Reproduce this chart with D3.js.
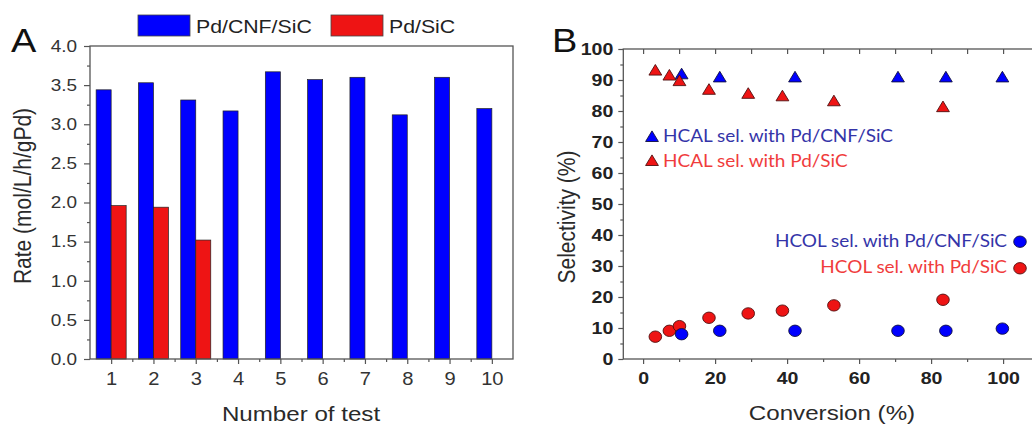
<!DOCTYPE html>
<html><head><meta charset="utf-8">
<script src="https://cdn.jsdelivr.net/npm/d3@7"></script>
<style>
html,body{margin:0;padding:0;background:#fff;}
svg{display:block;}
</style></head>
<body>
<svg id="chart" width="1032" height="426"></svg>
<script>
// ---------- DATA ----------
const tests = [1, 2, 3, 4, 5, 6, 7, 8, 9, 10];
const rateCNF = [3.44, 3.53, 3.31, 3.17, 3.67, 3.57, 3.60, 3.12, 3.60, 3.20];
const rateSiC = [1.96, 1.94, 1.52, 0, 0, null, null, null, null, null];
const seriesNamesA = ["Pd/CNF/SiC", "Pd/SiC"];
const yTicksA = [0, 0.5, 1, 1.5, 2, 2.5, 3, 3.5, 4];

const convCNF = [10.7, 21.3, 42.2, 70.8, 84.1, 99.8];
const hcalCNF = [92.0, 91.0, 91.0, 91.0, 91.0, 91.0];
const hcolCNF = [8.0, 9.1, 9.1, 9.1, 9.1, 9.8];
const convSiC = [3.4, 7.3, 10.1, 18.3, 29.2, 38.7, 53.0, 83.3];
const hcalSiC = [93.2, 91.6, 89.8, 87.0, 85.7, 84.9, 83.3, 81.4];
const hcolSiC = [7.2, 9.1, 10.6, 13.3, 14.7, 15.6, 17.3, 19.1];
const xTicksB = [0, 20, 40, 60, 80, 100];
const yTicksB = [0, 10, 20, 30, 40, 50, 60, 70, 80, 90, 100];
const legendB = ["HCAL sel. with Pd/CNF/SiC", "HCAL sel. with Pd/SiC", "HCOL sel. with Pd/CNF/SiC", "HCOL sel. with Pd/SiC"];

// ---------- STYLE ----------
const SX = 1.15; // horizontal stretch of the original figure
const BLUE = "#0000ff", RED = "#ee1414";
const AX = "#555", TXT = "#2a2a2a";
const FONT = "'Liberation Sans', Arial, sans-serif";
const svg = d3.select("#chart");

function stretchTicks(g, x, y, anchor) {
  g.selectAll(".tick text").each(function () {
    const t = d3.select(this);
    if (x !== null) t.attr("x", x / SX);
    if (y !== null) t.attr("y", y).attr("dy", 0);
    t.attr("transform", `scale(${SX},1)`).attr("text-anchor", anchor);
  });
}
function sText(parent, x, y, str, size, opts = {}) {
  return parent.append("text")
    .attr("transform", `translate(${x},${y}) scale(${SX},1)`)
    .attr("text-anchor", opts.anchor || "start")
    .attr("font-family", opts.family || FONT)
    .attr("font-size", size)
    .attr("font-weight", opts.weight || "normal")
    .attr("fill", opts.fill || TXT)
    .text(str);
}
function rText(parent, x, y, str, size) {
  return parent.append("text")
    .attr("transform", `translate(${x},${y}) rotate(-90) scale(1,${SX})`)
    .attr("text-anchor", "middle")
    .attr("font-family", FONT).attr("font-size", size).attr("fill", TXT)
    .text(str);
}
function styleAxis(g) {
  g.select(".domain").remove();
  g.selectAll(".tick line").attr("stroke", AX).attr("stroke-width", 1.2);
}

// ================= PANEL A =================
const xA = d3.scaleLinear().domain([0.5, 10.5]).range([90, 513]);
const yA = d3.scaleLinear().domain([0, 4]).range([359, 46]);
const bw = 0.355;
const gA = svg.append("g");

// bars
gA.append("g").selectAll("rect").data(tests).join("rect")
  .attr("x", (d) => xA(d - bw)).attr("width", (d) => xA(d) - xA(d - bw))
  .attr("y", (d, i) => yA(rateCNF[i])).attr("height", (d, i) => yA(0) - yA(rateCNF[i]))
  .attr("fill", BLUE).attr("stroke", "#222").attr("stroke-width", 0.7);
gA.append("g").selectAll("rect").data(tests.filter((d, i) => rateSiC[i] !== null)).join("rect")
  .attr("x", (d) => xA(d)).attr("width", (d) => xA(d + bw) - xA(d))
  .attr("y", (d) => yA(rateSiC[d - 1])).attr("height", (d) => yA(0) - yA(rateSiC[d - 1]))
  .attr("fill", RED).attr("stroke", "#222").attr("stroke-width", 0.7);

// frame
gA.append("rect").attr("x", xA(0.5)).attr("y", yA(4))
  .attr("width", xA(10.5) - xA(0.5)).attr("height", yA(0) - yA(4))
  .attr("fill", "none").attr("stroke", AX).attr("stroke-width", 1.3);

// axes
const aL = gA.append("g").attr("transform", `translate(${xA(0.5)},0)`)
  .call(d3.axisLeft(yA).tickValues(yTicksA).tickFormat(d3.format(".1f")).tickSize(6).tickSizeOuter(0));
styleAxis(aL);
aL.selectAll(".tick text").attr("font-family", FONT).attr("font-size", 16.5).attr("fill", "#333");
stretchTicks(aL, -13, null, "end");
const aLm = gA.append("g").attr("transform", `translate(${xA(0.5)},0)`)
  .call(d3.axisLeft(yA).tickValues(d3.range(0.25, 4, 0.5)).tickFormat("").tickSize(3).tickSizeOuter(0));
styleAxis(aLm);

const aB = gA.append("g").attr("transform", `translate(0,${yA(0)})`)
  .call(d3.axisBottom(xA).tickValues(tests).tickSize(5).tickSizeOuter(0));
styleAxis(aB);
aB.selectAll(".tick text").attr("font-family", FONT).attr("font-size", 17.5).attr("fill", "#333");
stretchTicks(aB, 0, 26, "middle");
const aBm = gA.append("g").attr("transform", `translate(0,${yA(0)})`)
  .call(d3.axisBottom(xA).tickValues(d3.range(1.5, 10, 1)).tickFormat("").tickSize(3).tickSizeOuter(0));
styleAxis(aBm);

// titles
sText(gA, 301, 421, "Number of test", 21, { anchor: "middle" });
rText(gA, 31, 196, "Rate (mol/L/h/gPd)", 21);
sText(gA, 11, 52, "A", 33, { fill: "#111" });

// legend A
[BLUE, RED].forEach((c, i) => {
  const lx = [138, 331][i];
  gA.append("rect").attr("x", lx).attr("y", 15).attr("width", 52).attr("height", 21)
    .attr("fill", c).attr("stroke", "#444").attr("stroke-width", 0.8);
  sText(gA, lx + 58, 33, seriesNamesA[i], 18.5, { fill: "#222" });
});

// ================= PANEL B =================
const xB = d3.scaleLinear().domain([-5.5, 108.5]).range([623.3, 1033.7]);
const yB = d3.scaleLinear().domain([0, 100]).range([359, 49]);
const gB = svg.append("g");

// frame lines
gB.append("rect").attr("x", xB(-5.5)).attr("y", yB(100))
  .attr("width", xB(108.5) - xB(-5.5) + 5).attr("height", yB(0) - yB(100))
  .attr("fill", "none").attr("stroke", AX).attr("stroke-width", 1.3);

const bL = gB.append("g").attr("transform", `translate(${xB(-5.5)},0)`)
  .call(d3.axisLeft(yB).tickValues(yTicksB).tickSize(5).tickSizeOuter(0));
styleAxis(bL);
bL.selectAll(".tick text").attr("font-family", FONT).attr("font-size", 17).attr("font-weight", "bold").attr("fill", "#222");
stretchTicks(bL, -10, null, "end");
const bLm = gB.append("g").attr("transform", `translate(${xB(-5.5)},0)`)
  .call(d3.axisLeft(yB).tickValues(d3.range(5, 100, 10)).tickFormat("").tickSize(3).tickSizeOuter(0));
styleAxis(bLm);

const bB = gB.append("g").attr("transform", `translate(0,${yB(0)})`)
  .call(d3.axisBottom(xB).tickValues(xTicksB).tickSize(5).tickSizeOuter(0));
styleAxis(bB);
bB.selectAll(".tick text").attr("font-family", FONT).attr("font-size", 17).attr("font-weight", "bold").attr("fill", "#222");
stretchTicks(bB, 0, 25, "middle");
const bBm = gB.append("g").attr("transform", `translate(0,${yB(0)})`)
  .call(d3.axisBottom(xB).tickValues(d3.range(10, 100, 20)).tickFormat("").tickSize(3).tickSizeOuter(0));
styleAxis(bBm);
const bT = gB.append("g").attr("transform", `translate(0,${yB(100)})`)
  .call(d3.axisTop(xB).tickValues(d3.range(0, 101, 10)).tickFormat("").tickSize(-5).tickSizeOuter(0));
styleAxis(bT);

sText(gB, 832, 420, "Conversion (%)", 21, { anchor: "middle" });
rText(gB, 575, 217, "Selectivity (%)", 21);
sText(gB, 552, 52, "B", 33, { fill: "#111" });

// markers
const tri = "M0,-5.6 L6.4,5 L-6.4,5 Z";
function triangles(xs, ys, fill, stroke) {
  gB.append("g").selectAll("path").data(xs).join("path")
    .attr("d", tri)
    .attr("transform", (d, i) => `translate(${xB(d)},${yB(ys[i])})`)
    .attr("fill", fill).attr("stroke", stroke).attr("stroke-width", 0.9);
}
function dots(xs, ys, fill, stroke) {
  gB.append("g").selectAll("ellipse").data(xs).join("ellipse")
    .attr("cx", (d) => xB(d)).attr("cy", (d, i) => yB(ys[i]))
    .attr("rx", 6.3).attr("ry", 5.7)
    .attr("fill", fill).attr("stroke", stroke).attr("stroke-width", 0.9);
}
triangles(convCNF, hcalCNF, BLUE, "#101040");
triangles(convSiC, hcalSiC, RED, "#501010");
dots(convSiC, hcolSiC, RED, "#501010");
dots(convCNF, hcolCNF, BLUE, "#101040");

// legend B
const LFONT = "Lato, 'Open Sans', sans-serif";
const legBlue = "#3434a8", legRed = "#f03c3c";
gB.append("path").attr("d", tri).attr("transform", "translate(652,136.5)").attr("fill", BLUE).attr("stroke", "#101040").attr("stroke-width", 0.9);
gB.append("path").attr("d", tri).attr("transform", "translate(652,160.5)").attr("fill", RED).attr("stroke", "#501010").attr("stroke-width", 0.9);
sText(gB, 663, 142, legendB[0], 16.5, { family: LFONT, fill: legBlue });
sText(gB, 663, 167, legendB[1], 16.5, { family: LFONT, fill: legRed });
sText(gB, 1007, 247, legendB[2], 16.5, { family: LFONT, fill: legBlue, anchor: "end" });
sText(gB, 1007, 273, legendB[3], 16.5, { family: LFONT, fill: legRed, anchor: "end" });
gB.append("ellipse").attr("cx", 1020).attr("cy", 241.7).attr("rx", 6.3).attr("ry", 5.7).attr("fill", BLUE).attr("stroke", "#101040").attr("stroke-width", 0.9);
gB.append("ellipse").attr("cx", 1020).attr("cy", 268.3).attr("rx", 6.3).attr("ry", 5.7).attr("fill", RED).attr("stroke", "#501010").attr("stroke-width", 0.9);
</script>
</body></html>
